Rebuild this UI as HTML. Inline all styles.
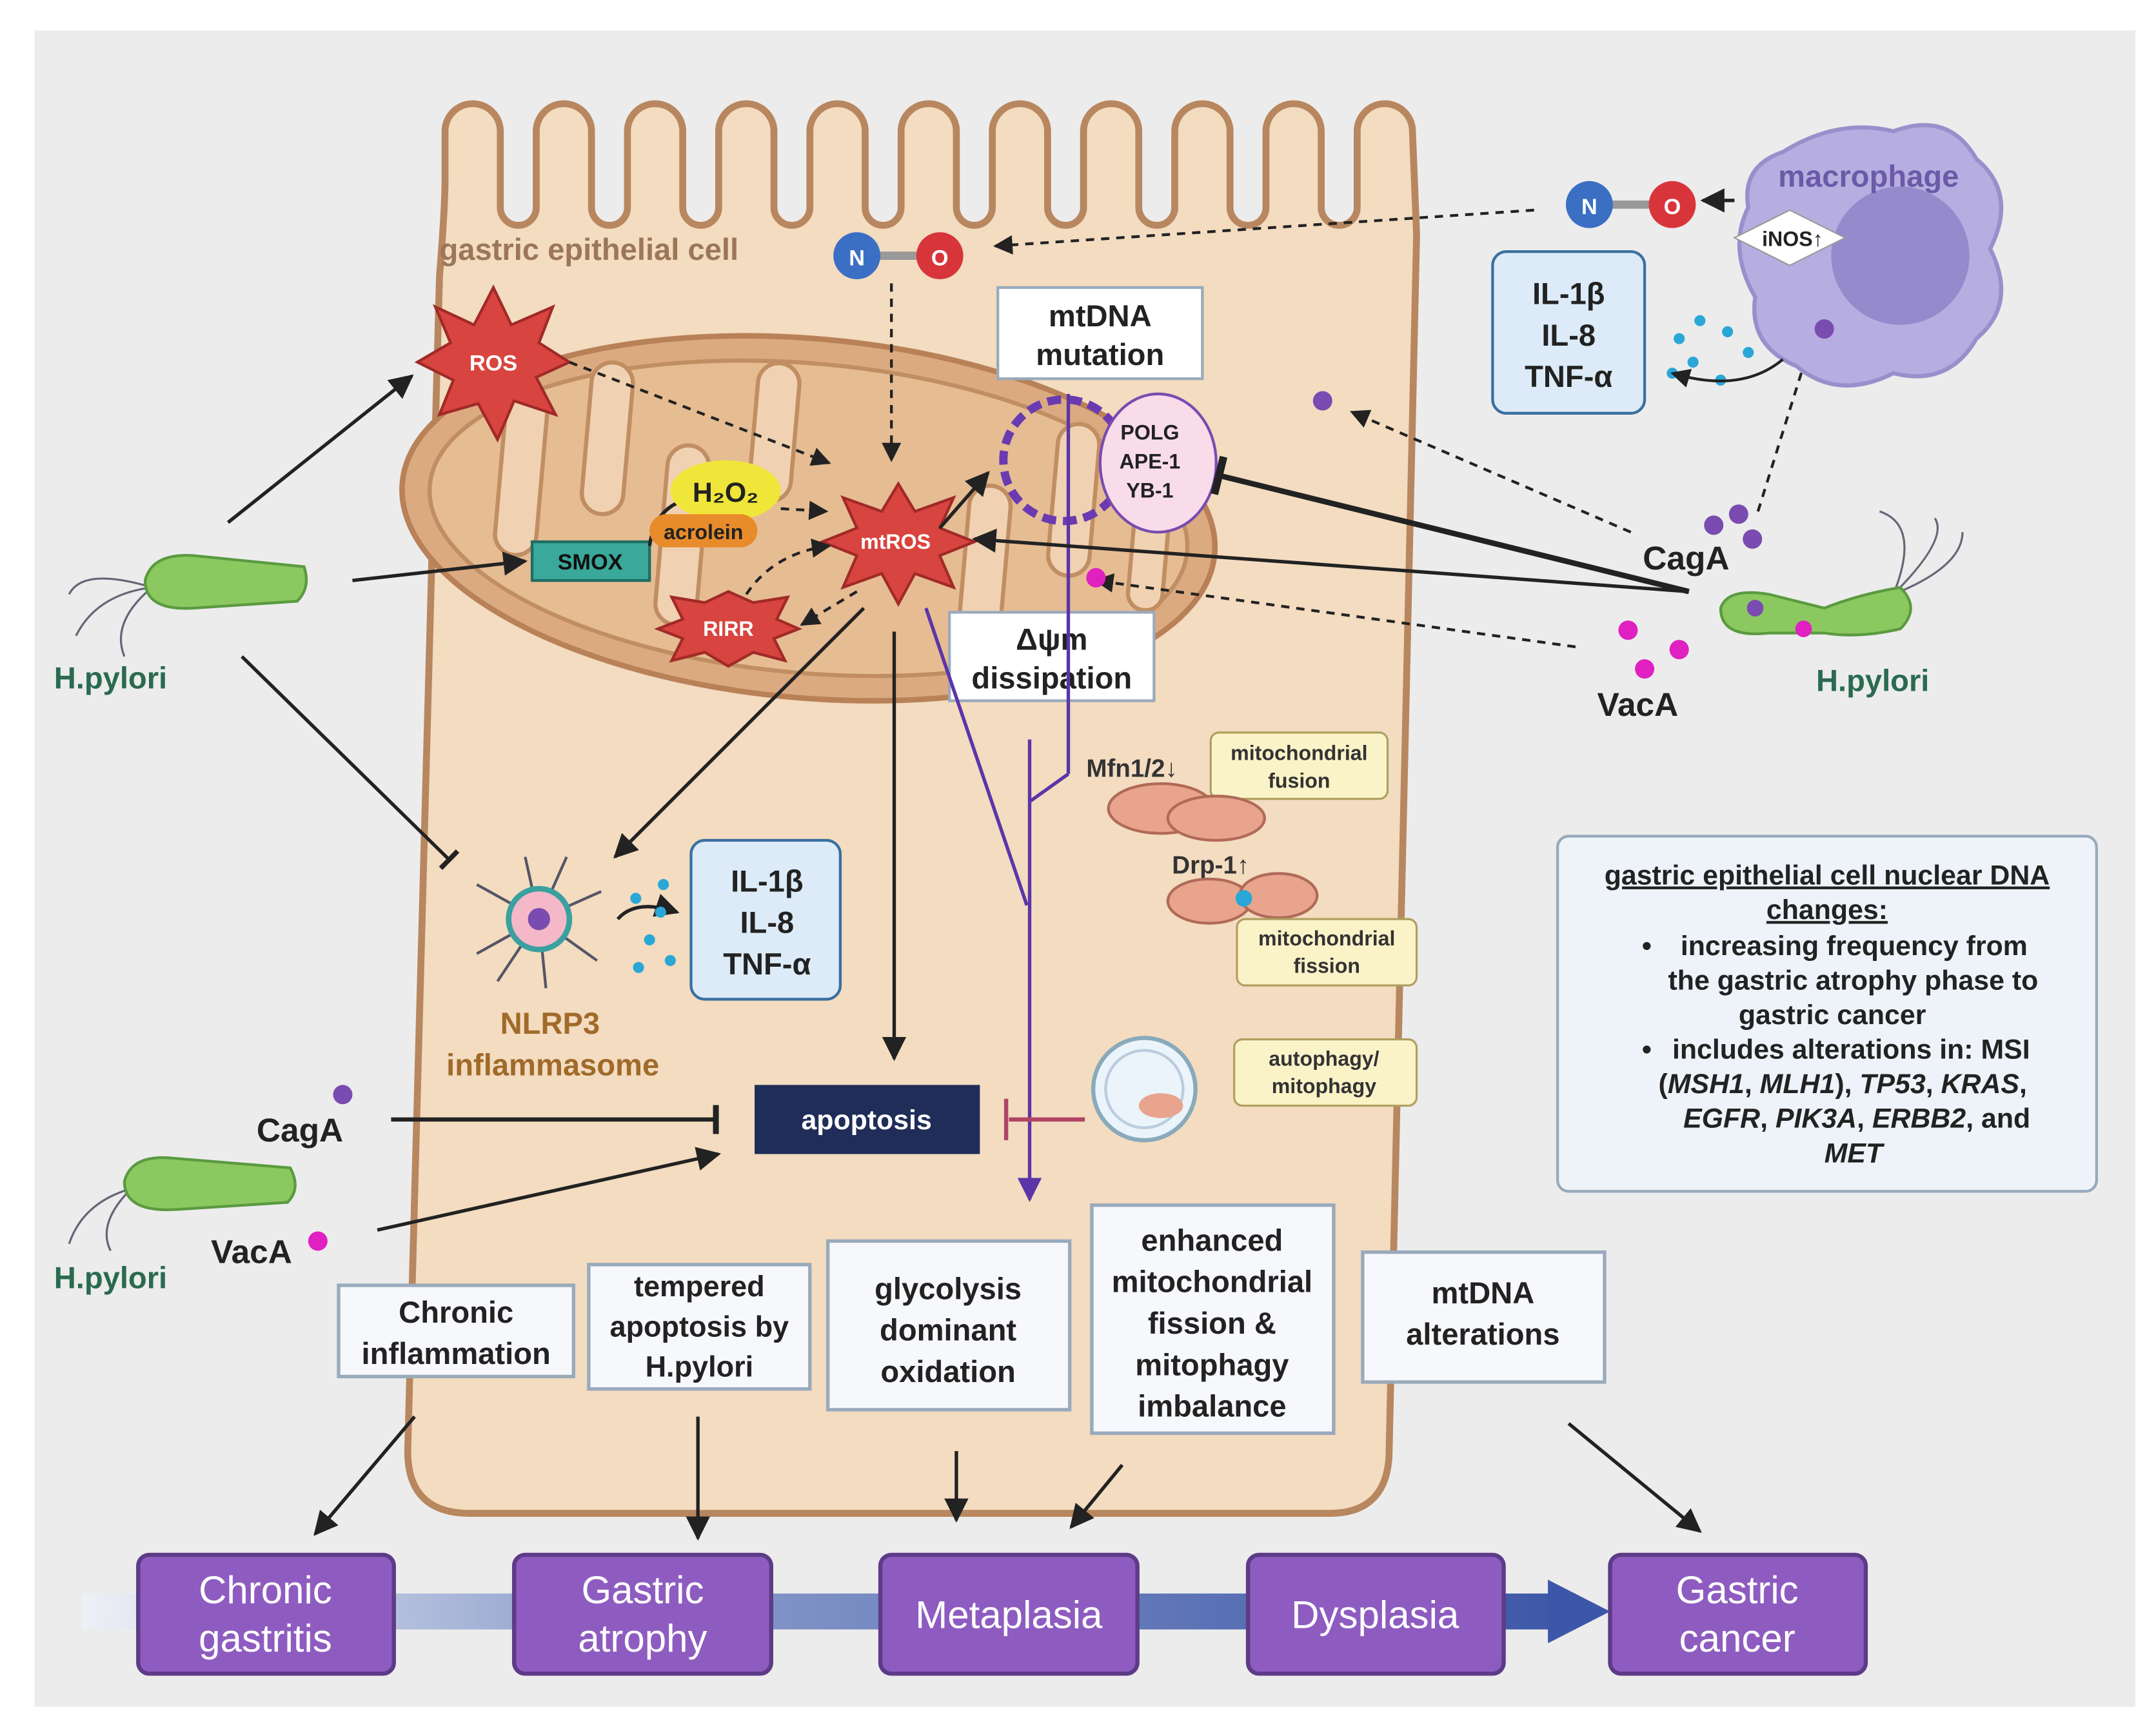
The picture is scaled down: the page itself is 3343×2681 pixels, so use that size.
<!DOCTYPE html>
<html><head><meta charset="utf-8"><style>
html,body{margin:0;padding:0;background:#fff;}
svg{display:block;}
text{font-family:"Liberation Sans",sans-serif;font-weight:bold;}
text.n{font-weight:normal;}
</style></head><body>
<svg width="3343" height="2681" viewBox="0 0 1560 1251" xmlns="http://www.w3.org/2000/svg">
<defs>
<marker id="ah" viewBox="0 0 10 10" refX="9" refY="5" markerWidth="7" markerHeight="7" orient="auto-start-reverse"><path d="M0,0 L10,5 L0,10 z" fill="#222"/></marker>
<marker id="ahp" viewBox="0 0 10 10" refX="9" refY="5" markerWidth="7" markerHeight="7" orient="auto"><path d="M0,0 L10,5 L0,10 z" fill="#5b35a8"/></marker>
<marker id="tb" viewBox="0 0 4 20" refX="2" refY="10" markerWidth="4" markerHeight="7" orient="auto"><rect x="0" y="0" width="4" height="20" fill="#222"/></marker>
<linearGradient id="bar" x1="0" x2="1"><stop offset="0" stop-color="#eef0f6"/><stop offset="0.35" stop-color="#8d9fcc"/><stop offset="1" stop-color="#3d57a8"/></linearGradient>
</defs>
<rect x="0" y="0" width="1560" height="1251" fill="#fff"/>
<rect x="25" y="22" width="1520" height="1213" fill="#ececec"/>
<path d="M295,1050 L318,200 Q322,150 322,130 L322,95 A20,20 0 0 1 362,95 L362,150 A12,12 0 0 0 388,150 L388,95 A20,20 0 0 1 428,95 L428,150 A12,12 0 0 0 454,150 L454,95 A20,20 0 0 1 494,95 L494,150 A12,12 0 0 0 520,150 L520,95 A20,20 0 0 1 560,95 L560,150 A12,12 0 0 0 586,150 L586,95 A20,20 0 0 1 626,95 L626,150 A12,12 0 0 0 652,150 L652,95 A20,20 0 0 1 692,95 L692,150 A12,12 0 0 0 718,150 L718,95 A20,20 0 0 1 758,95 L758,150 A12,12 0 0 0 784,150 L784,95 A20,20 0 0 1 824,95 L824,150 A12,12 0 0 0 850,150 L850,95 A20,20 0 0 1 890,95 L890,150 A12,12 0 0 0 916,150 L916,95 A20,20 0 0 1 956,95 L956,150 A12,12 0 0 0 982,150 L982,95 A20,20 0 0 1 1022,95 L1025,170 L1005,1055 Q1002,1095 962,1095 L340,1095 Q295,1095 295,1050 Z" fill="#f3dcc0" stroke="#b8875f" stroke-width="5"/>
<text x="318" y="188" font-size="22" fill="#9c7658">gastric epithelial cell</text>
<g transform="rotate(5 585 375)">
<ellipse cx="585" cy="375" rx="295" ry="130" fill="#dcaa80" stroke="#b98158" stroke-width="4"/>
<ellipse cx="585" cy="375" rx="275" ry="112" fill="#e6bc93" stroke="#c18e63" stroke-width="3"/>
<g fill="#f0d2b2" stroke="#c18e63" stroke-width="3">
<rect x="360" y="300" width="30" height="120" rx="15"/><rect x="420" y="275" width="30" height="110" rx="15"/><rect x="480" y="330" width="30" height="130" rx="15"/><rect x="540" y="265" width="30" height="100" rx="15"/><rect x="700" y="340" width="30" height="120" rx="15"/><rect x="760" y="290" width="30" height="110" rx="15"/><rect x="820" y="330" width="25" height="90" rx="12"/>
</g></g>
<line x1="633" y1="185" x2="668" y2="185" stroke="#999" stroke-width="6"/>
<circle cx="620" cy="185" r="17" fill="#3a6fc4"/><text x="620" y="192" font-size="16" fill="#fff" text-anchor="middle">N</text>
<circle cx="680" cy="185" r="17" fill="#d8353b"/><text x="680" y="192" font-size="16" fill="#fff" text-anchor="middle">O</text>
<polygon points="357,208 370,235 400,222 390,248 412,262 388,273 402,300 372,290 360,318 346,292 318,300 328,275 302,262 326,248 315,222 343,235" fill="#d8443f" stroke="#a02a28" stroke-width="2"/>
<text x="357" y="268" font-size="16" fill="#fff" text-anchor="middle">ROS</text>
<polygon points="650,350 662,370 690,360 680,382 705,392 680,402 690,425 662,415 650,437 638,415 610,425 620,402 595,392 620,382 610,360 638,370" fill="#d8443f" stroke="#a02a28" stroke-width="2"/>
<text x="648" y="397" font-size="15" fill="#fff" text-anchor="middle">mtROS</text>
<polygon points="527,428 545,436 570,432 562,448 578,455 560,462 568,478 545,472 527,482 510,472 486,478 494,462 476,455 494,448 486,432 510,436" fill="#d8443f" stroke="#a02a28" stroke-width="2"/>
<text x="527" y="460" font-size="15" fill="#fff" text-anchor="middle">RIRR</text>
<rect x="385" y="392" width="85" height="28" fill="#3aa89a" stroke="#1e6e64" stroke-width="2"/>
<text x="427" y="412" font-size="16" fill="#111" text-anchor="middle">SMOX</text>
<path d="M470,395 Q475,360 510,360" fill="none" stroke="#222" stroke-width="2.5" marker-end="url(#ah)"/>
<ellipse cx="525" cy="355" rx="40" ry="22" fill="#f0e63a"/>
<text x="525" y="363" font-size="20" fill="#222" text-anchor="middle">H₂O₂</text>
<rect x="470" y="372" width="78" height="24" rx="12" fill="#e88b2a"/>
<text x="509" y="390" font-size="15" fill="#222" text-anchor="middle">acrolein</text>
<rect x="722" y="208" width="148" height="66" fill="#fff" stroke="#9ab" stroke-width="2"/>
<text x="796" y="236" font-size="22" fill="#222" text-anchor="middle">mtDNA</text>
<text x="796" y="264" font-size="22" fill="#222" text-anchor="middle">mutation</text>
<circle cx="770" cy="333" r="44" fill="none" stroke="#6a3bb0" stroke-width="6" stroke-dasharray="10 5"/>
<ellipse cx="838" cy="335" rx="42" ry="50" fill="#f9dcea" stroke="#7a4bb0" stroke-width="2"/>
<text x="832" y="318" font-size="15" fill="#222" text-anchor="middle">POLG</text>
<text x="832" y="339" font-size="15" fill="#222" text-anchor="middle">APE-1</text>
<text x="832" y="360" font-size="15" fill="#222" text-anchor="middle">YB-1</text>
<rect x="687" y="443" width="148" height="64" fill="#fff" stroke="#9ab" stroke-width="2"/>
<text x="761" y="470" font-size="22" fill="#222" text-anchor="middle">Δψm</text>
<text x="761" y="498" font-size="22" fill="#222" text-anchor="middle">dissipation</text>
<g stroke="#5b35a8" stroke-width="2.5" fill="none">
<line x1="773" y1="285" x2="773" y2="560"/><line x1="670" y1="440" x2="743" y2="655"/><line x1="745" y1="535" x2="745" y2="868" marker-end="url(#ahp)"/><path d="M773,560 L745,580"/>
</g>
<g stroke="#222" stroke-width="2" stroke-dasharray="6 5" fill="none" marker-end="url(#ah)">
<line x1="1110" y1="152" x2="720" y2="178"/>
<line x1="645" y1="205" x2="645" y2="333"/>
<line x1="412" y1="262" x2="600" y2="335"/>
<line x1="565" y1="368" x2="598" y2="370"/>
<line x1="620" y1="428" x2="580" y2="452"/>
<path d="M540,430 Q560,400 600,395"/>
<line x1="1180" y1="385" x2="978" y2="298"/>
<line x1="1140" y1="468" x2="793" y2="420"/>
<line x1="1272" y1="370" x2="1308" y2="255"/>
</g>
<g stroke="#222" stroke-width="2.5" fill="none">
<line x1="165" y1="378" x2="298" y2="272" marker-end="url(#ah)"/>
<line x1="255" y1="420" x2="380" y2="406" marker-end="url(#ah)"/>
<line x1="175" y1="475" x2="325" y2="622" marker-end="url(#tb)"/>
<line x1="680" y1="382" x2="715" y2="342" marker-end="url(#ah)"/>
<line x1="625" y1="440" x2="445" y2="620" marker-end="url(#ah)"/>
<line x1="647" y1="457" x2="647" y2="766" marker-end="url(#ah)"/>
<line x1="1222" y1="428" x2="705" y2="390" marker-end="url(#ah)"/>
<line x1="1222" y1="428" x2="882" y2="344" stroke-width="4" marker-end="url(#tb)"/>
<line x1="283" y1="810" x2="518" y2="810" stroke-width="3" marker-end="url(#tb)"/>
<line x1="273" y1="890" x2="520" y2="835" marker-end="url(#ah)"/>
<path d="M447,665 Q460,650 490,660" marker-end="url(#ah)"/>
<line x1="300" y1="1025" x2="228" y2="1110" marker-end="url(#ah)"/>
<line x1="505" y1="1025" x2="505" y2="1113" marker-end="url(#ah)"/>
<line x1="692" y1="1050" x2="692" y2="1100" marker-end="url(#ah)"/>
<line x1="812" y1="1060" x2="775" y2="1105" marker-end="url(#ah)"/>
<line x1="1135" y1="1030" x2="1230" y2="1108" marker-end="url(#ah)"/>
</g>
<line x1="785" y1="810" x2="730" y2="810" stroke="#b04466" stroke-width="3"/><line x1="728" y1="795" x2="728" y2="825" stroke="#b04466" stroke-width="3"/>
<g stroke="#556" stroke-width="2">
<line x1="390" y1="665" x2="345" y2="640"/><line x1="390" y1="665" x2="345" y2="690"/><line x1="390" y1="665" x2="380" y2="620"/><line x1="390" y1="665" x2="410" y2="620"/><line x1="390" y1="665" x2="435" y2="645"/><line x1="390" y1="665" x2="432" y2="695"/><line x1="390" y1="665" x2="395" y2="715"/><line x1="390" y1="665" x2="360" y2="710"/>
</g>
<circle cx="390" cy="665" r="22" fill="#f4b8c8" stroke="#3aa0a0" stroke-width="4"/><circle cx="390" cy="665" r="8" fill="#7a4bb0"/>
<g fill="#2aa7d6"><circle cx="460" cy="650" r="4"/><circle cx="478" cy="660" r="4"/><circle cx="470" cy="680" r="4"/><circle cx="485" cy="695" r="4"/><circle cx="462" cy="700" r="4"/><circle cx="480" cy="640" r="4"/></g>
<text x="398" y="748" font-size="22" fill="#a06a2a" text-anchor="middle">NLRP3</text>
<text x="400" y="778" font-size="22" fill="#a06a2a" text-anchor="middle">inflammasome</text>
<rect x="500" y="608" width="108" height="115" rx="10" fill="#dcebf7" stroke="#3a6fa0" stroke-width="2"/>
<text x="555" y="645" font-size="22" fill="#222" text-anchor="middle">IL-1β</text>
<text x="555" y="675" font-size="22" fill="#222" text-anchor="middle">IL-8</text>
<text x="555" y="705" font-size="22" fill="#222" text-anchor="middle">TNF-α</text>
<rect x="546" y="785" width="163" height="50" fill="#1f2d58"/>
<text x="627" y="817" font-size="20" fill="#fff" text-anchor="middle">apoptosis</text>
<text x="786" y="562" font-size="18" fill="#333">Mfn1/2↓</text>
<rect x="876" y="530" width="128" height="48" rx="6" fill="#fbf3c8" stroke="#b0a060" stroke-width="1.5"/>
<text x="940" y="550" font-size="15" fill="#333" text-anchor="middle">mitochondrial</text>
<text x="940" y="570" font-size="15" fill="#333" text-anchor="middle">fusion</text>
<ellipse cx="840" cy="585" rx="38" ry="18" fill="#e9a48e" stroke="#b06a58" stroke-width="2"/><ellipse cx="880" cy="592" rx="35" ry="16" fill="#e9a48e" stroke="#b06a58" stroke-width="2"/>
<text x="848" y="632" font-size="18" fill="#333">Drp-1↑</text>
<ellipse cx="875" cy="652" rx="30" ry="16" fill="#e9a48e" stroke="#b06a58" stroke-width="2"/><ellipse cx="925" cy="648" rx="28" ry="16" fill="#e9a48e" stroke="#b06a58" stroke-width="2"/><circle cx="900" cy="650" r="6" fill="#2aa7d6"/>
<rect x="895" y="665" width="130" height="48" rx="6" fill="#fbf3c8" stroke="#b0a060" stroke-width="1.5"/>
<text x="960" y="684" font-size="15" fill="#333" text-anchor="middle">mitochondrial</text>
<text x="960" y="704" font-size="15" fill="#333" text-anchor="middle">fission</text>
<circle cx="828" cy="788" r="37" fill="#eaf4fa" stroke="#8ab" stroke-width="3"/><circle cx="828" cy="788" r="28" fill="none" stroke="#bcd" stroke-width="2"/><ellipse cx="840" cy="800" rx="16" ry="9" fill="#e9a48e"/>
<rect x="893" y="752" width="132" height="48" rx="6" fill="#fbf3c8" stroke="#b0a060" stroke-width="1.5"/>
<text x="958" y="771" font-size="15" fill="#333" text-anchor="middle">autophagy/</text>
<text x="958" y="791" font-size="15" fill="#333" text-anchor="middle">mitophagy</text>
<path d="M1290,110 Q1330,85 1370,95 Q1410,80 1430,115 Q1460,140 1440,180 Q1460,220 1430,245 Q1410,280 1370,270 Q1330,290 1300,265 Q1265,250 1270,215 Q1250,180 1265,150 Q1260,120 1290,110 Z" fill="#b6aee0" stroke="#9890cc" stroke-width="3"/>
<circle cx="1375" cy="185" r="50" fill="#958acb"/>
<text x="1352" y="135" font-size="22" fill="#6a5aa8" text-anchor="middle">macrophage</text>
<polygon points="1255,172 1295,152 1335,172 1295,192" fill="#fff" stroke="#999"/>
<text x="1297" y="178" font-size="15" fill="#222" text-anchor="middle">iNOS↑</text>
<circle cx="1320" cy="238" r="7" fill="#7a4bb0"/>
<line x1="1163" y1="148" x2="1198" y2="148" stroke="#999" stroke-width="6"/>
<circle cx="1150" cy="148" r="17" fill="#3a6fc4"/><text x="1150" y="155" font-size="16" fill="#fff" text-anchor="middle">N</text>
<circle cx="1210" cy="148" r="17" fill="#d8353b"/><text x="1210" y="155" font-size="16" fill="#fff" text-anchor="middle">O</text>
<line x1="1255" y1="145" x2="1232" y2="145" stroke="#222" stroke-width="2.5" marker-end="url(#ah)"/>
<rect x="1080" y="182" width="110" height="117" rx="10" fill="#dcebf7" stroke="#3a6fa0" stroke-width="2"/>
<text x="1135" y="220" font-size="22" fill="#222" text-anchor="middle">IL-1β</text>
<text x="1135" y="250" font-size="22" fill="#222" text-anchor="middle">IL-8</text>
<text x="1135" y="280" font-size="22" fill="#222" text-anchor="middle">TNF-α</text>
<g fill="#2aa7d6"><circle cx="1215" cy="245" r="4"/><circle cx="1230" cy="232" r="4"/><circle cx="1250" cy="240" r="4"/><circle cx="1225" cy="262" r="4"/><circle cx="1245" cy="275" r="4"/><circle cx="1265" cy="255" r="4"/><circle cx="1210" cy="270" r="4"/></g>
<path d="M1290,260 Q1260,285 1210,270" fill="none" stroke="#222" stroke-width="2" marker-end="url(#ah)"/>
<circle cx="957" cy="290" r="7" fill="#7a4bb0"/>
<g fill="#7a4bb0"><circle cx="1240" cy="380" r="7"/><circle cx="1258" cy="372" r="7"/><circle cx="1268" cy="390" r="7"/></g>
<text x="1220" y="412" font-size="24" fill="#222" text-anchor="middle">CagA</text>
<g fill="#e020c0"><circle cx="1178" cy="456" r="7"/><circle cx="1215" cy="470" r="7"/><circle cx="1190" cy="484" r="7"/><circle cx="793" cy="418" r="7"/></g>
<text x="1185" y="518" font-size="24" fill="#222" text-anchor="middle">VacA</text>
<g fill="none" stroke="#667" stroke-width="1.5"><path d="M1370,430 Q1390,380 1360,370"/><path d="M1370,430 Q1410,390 1400,375"/><path d="M1370,430 Q1420,410 1420,385"/></g>
<path d="M1245,440 Q1250,425 1280,430 L1320,440 Q1345,430 1375,425 Q1390,440 1375,455 Q1345,462 1320,458 L1280,458 Q1245,462 1245,440 Z" fill="#8cc860" stroke="#5a9a40" stroke-width="2"/>
<circle cx="1270" cy="440" r="6" fill="#7a4bb0"/><circle cx="1305" cy="455" r="6" fill="#e020c0"/>
<text x="1355" y="500" font-size="22" fill="#2a6a50" text-anchor="middle">H.pylori</text>
<g fill="none" stroke="#667" stroke-width="1.5"><path d="M110,425 Q70,430 55,460"/><path d="M110,425 Q80,450 90,475"/><path d="M110,425 Q60,410 50,430"/></g>
<path d="M105,420 Q110,400 140,402 L220,410 Q225,425 215,435 L140,440 Q105,442 105,420 Z" fill="#8cc860" stroke="#5a9a40" stroke-width="2"/>
<text x="80" y="498" font-size="22" fill="#2a6a50" text-anchor="middle">H.pylori</text>
<g fill="none" stroke="#667" stroke-width="1.5"><path d="M95,860 Q60,870 50,900"/><path d="M95,860 Q70,885 80,905"/></g>
<path d="M90,855 Q95,835 125,838 L210,845 Q218,860 208,870 L130,875 Q90,878 90,855 Z" fill="#8cc860" stroke="#5a9a40" stroke-width="2"/>
<text x="80" y="932" font-size="22" fill="#2a6a50" text-anchor="middle">H.pylori</text>
<circle cx="248" cy="792" r="7" fill="#7a4bb0"/>
<text x="217" y="826" font-size="24" fill="#222" text-anchor="middle">CagA</text>
<circle cx="230" cy="898" r="7" fill="#e020c0"/>
<text x="182" y="914" font-size="24" fill="#222" text-anchor="middle">VacA</text>
<rect x="1127" y="605" width="390" height="257" rx="8" fill="#eef3f9" stroke="#9ab" stroke-width="2"/>
<text x="1322" y="640" font-size="20" fill="#222" text-anchor="middle" text-decoration="underline">gastric epithelial cell nuclear DNA</text>
<text x="1322" y="665" font-size="20" fill="#222" text-anchor="middle" text-decoration="underline">changes:</text>
<text font-size="20" fill="#222"><tspan x="1188" y="691">•</tspan><tspan x="1216" y="691">increasing frequency from</tspan><tspan x="1207" y="716">the gastric atrophy phase to</tspan><tspan x="1258" y="741">gastric cancer</tspan><tspan x="1188" y="766">•</tspan><tspan x="1210" y="766">includes alterations in: MSI</tspan><tspan x="1200" y="791">(<tspan font-style="italic">MSH1</tspan>, <tspan font-style="italic">MLH1</tspan>), <tspan font-style="italic">TP53</tspan>, <tspan font-style="italic">KRAS</tspan>,</tspan><tspan x="1218" y="816" font-style="italic">EGFR</tspan><tspan>, </tspan><tspan font-style="italic">PIK3A</tspan><tspan>, </tspan><tspan font-style="italic">ERBB2</tspan><tspan>, and</tspan><tspan x="1320" y="841" font-style="italic">MET</tspan></text>
<g fill="#f6f8fc" stroke="#9ab" stroke-width="2.5">
<rect x="245" y="930" width="170" height="66"/><rect x="426" y="915" width="160" height="90"/><rect x="599" y="898" width="175" height="122"/><rect x="790" y="872" width="175" height="165"/><rect x="986" y="906" width="175" height="94"/>
</g>
<g font-size="22" fill="#222" text-anchor="middle">
<text x="330" y="957">Chronic</text><text x="330" y="987">inflammation</text>
<text x="506" y="938" font-size="21">tempered</text><text x="506" y="967" font-size="21">apoptosis by</text><text x="506" y="996" font-size="21">H.pylori</text>
<text x="686" y="940">glycolysis</text><text x="686" y="970">dominant</text><text x="686" y="1000">oxidation</text>
<text x="877" y="905">enhanced</text><text x="877" y="935">mitochondrial</text><text x="877" y="965">fission &amp;</text><text x="877" y="995">mitophagy</text><text x="877" y="1025">imbalance</text>
<text x="1073" y="943">mtDNA</text><text x="1073" y="973">alterations</text>
</g>
<rect x="60" y="1153" width="1080" height="26" fill="url(#bar)"/>
<polygon points="1120,1143 1165,1166 1120,1189" fill="#3d57a8"/>
<g fill="#8e5cc0" stroke="#5d3b87" stroke-width="3">
<rect x="100" y="1125" width="185" height="86" rx="8"/><rect x="372" y="1125" width="186" height="86" rx="8"/><rect x="637" y="1125" width="186" height="86" rx="8"/><rect x="903" y="1125" width="185" height="86" rx="8"/><rect x="1165" y="1125" width="185" height="86" rx="8"/>
</g>
<g font-size="28" fill="#fff" text-anchor="middle">
<text class="n" x="192" y="1160">Chronic</text><text class="n" x="192" y="1195">gastritis</text>
<text class="n" x="465" y="1160">Gastric</text><text class="n" x="465" y="1195">atrophy</text>
<text class="n" x="730" y="1178">Metaplasia</text>
<text class="n" x="995" y="1178">Dysplasia</text>
<text class="n" x="1257" y="1160">Gastric</text><text class="n" x="1257" y="1195">cancer</text>
</g>
</svg>
</body></html>
